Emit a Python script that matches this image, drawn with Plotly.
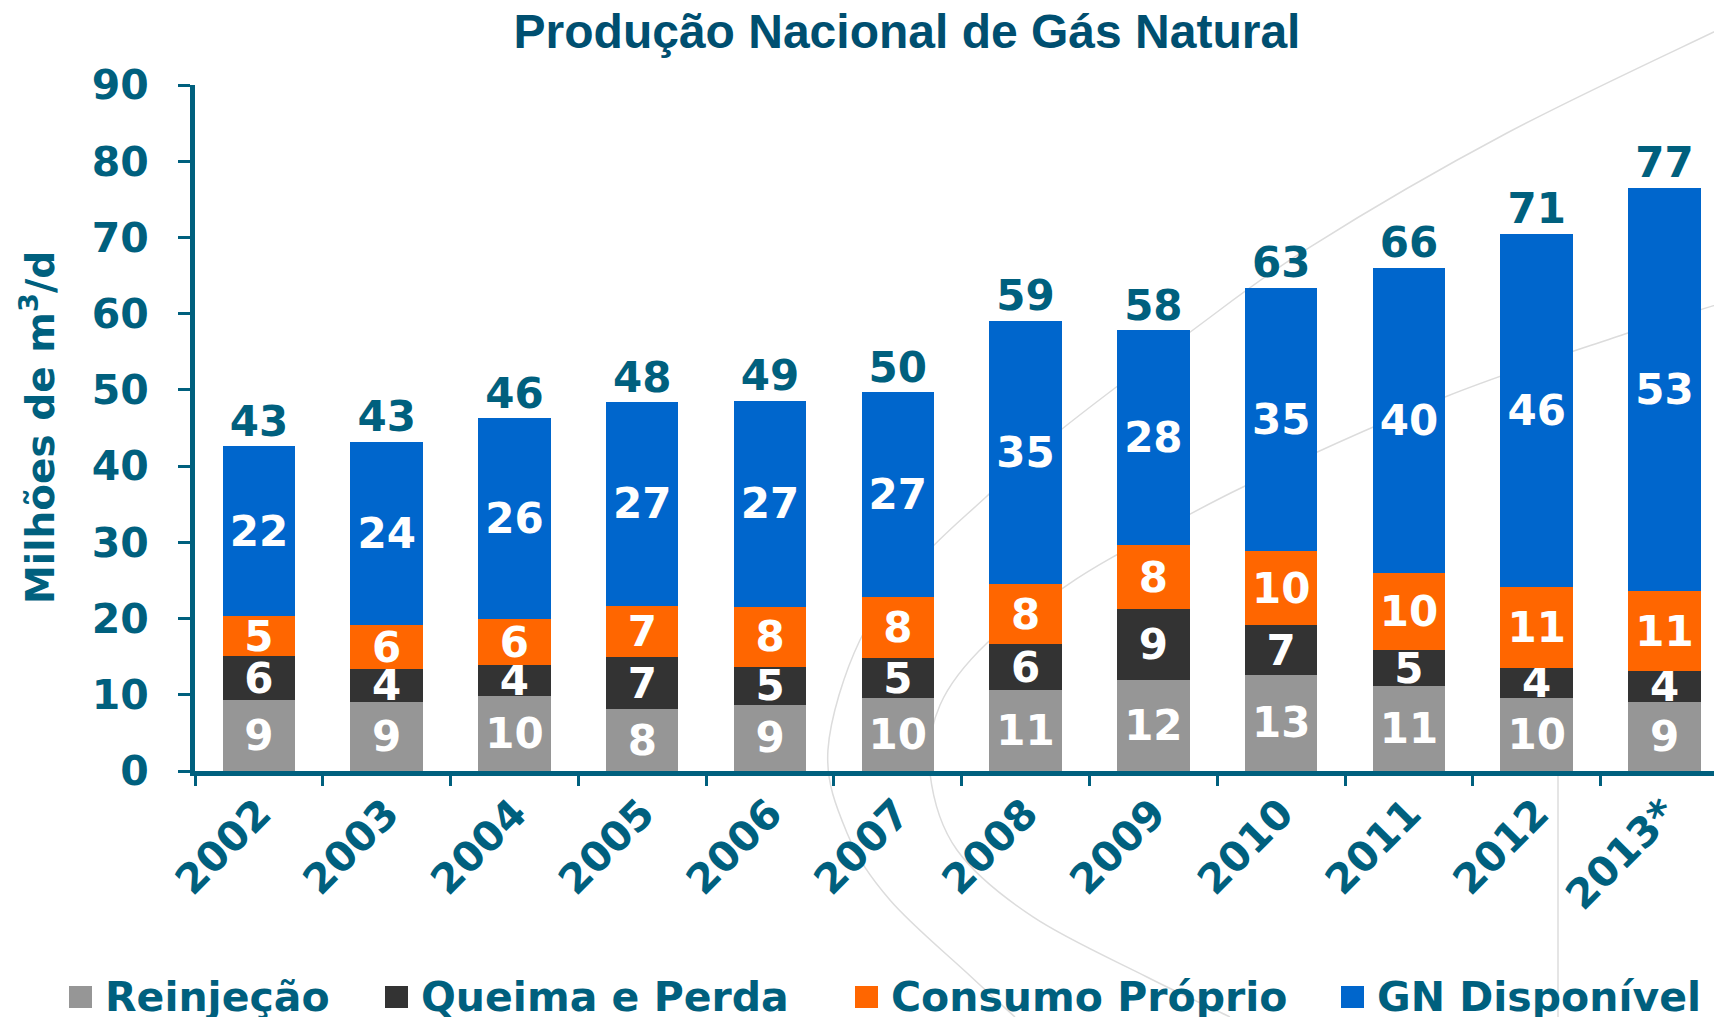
import plotly.graph_objects as go
from decimal import Decimal, ROUND_HALF_UP

# ---------------- data ----------------
years = ["2002", "2003", "2004", "2005", "2006", "2007", "2008", "2009", "2010", "2011", "2012", "2013*"]
reinjecao = [9.3, 9.0, 9.9, 8.1, 8.7, 9.6, 10.6, 11.9, 12.6, 11.1, 9.6, 9.1]
queima_perda = [5.8, 4.4, 4.0, 6.8, 5.0, 5.2, 6.0, 9.3, 6.5, 4.8, 3.9, 4.0]
consumo_proprio = [5.2, 5.7, 6.0, 6.8, 7.8, 8.0, 7.9, 8.4, 9.8, 10.1, 10.6, 10.5]
gn_disponivel = [22.3, 24.1, 26.4, 26.7, 27.1, 26.9, 34.6, 28.2, 34.5, 40.0, 46.4, 52.9]
series_names = ["Reinjeção", "Queima e Perda", "Consumo Próprio", "GN Disponível"]
series_colors = ["#969696", "#333333", "#FF6600", "#0066CC"]
y_ticks = [0, 10, 20, 30, 40, 50, 60, 70, 80, 90]

series_values = [reinjecao, queima_perda, consumo_proprio, gn_disponivel]
totals = [round(sum(v), 1) for v in zip(*series_values)]


def half_up(v):
    return str(Decimal(str(v)).quantize(Decimal("1"), rounding=ROUND_HALF_UP))


# ---------------- layout geometry ----------------
# The page body adds an 8px margin, so the figure is drawn 8px smaller
# and all target positions below are given in screenshot pixels.
OFF = 8
W_IMG, H_IMG = 1722, 1017
FIG_W, FIG_H = W_IMG - OFF, H_IMG - OFF
PLOT_LEFT, PLOT_TOP, PLOT_BOTTOM = 195, 85, 771      # screenshot pixels
L = PLOT_LEFT - OFF
T = PLOT_TOP - OFF
PH = PLOT_BOTTOM - PLOT_TOP
B = FIG_H - T - PH
R = 0
PW = FIG_W - L - R

TEAL = "#00607E"
TITLE = "#004F70"
FONT = "DejaVu Sans"
FS = 41
FS_BAR = 42


def to_paper(x, y):
    return ((x - PLOT_LEFT) / PW, (PLOT_BOTTOM - y) / PH)


fig = go.Figure()

for name, vals, col in zip(series_names, series_values, series_colors):
    fig.add_trace(go.Bar(
        x=years, y=vals, name=name,
        marker=dict(color=col, line=dict(width=0)),
        text=[half_up(v) for v in vals],
        textposition="inside", insidetextanchor="middle",
        constraintext="none", textangle=0,
        textfont=dict(family=FONT, size=FS_BAR, color="white", weight="bold"),
        hoverinfo="skip", showlegend=False,
    ))

fig.add_trace(go.Scatter(
    x=years, y=totals, mode="text",
    text=[half_up(v) for v in totals],
    textposition="top center",
    textfont=dict(family=FONT, size=FS_BAR, color=TEAL, weight="bold"),
    showlegend=False, hoverinfo="skip",
))


# ---------------- decorative background arcs ----------------
def smooth_path(points):
    p = [to_paper(x, y) for x, y in points]
    d = "M{:.4f},{:.4f}".format(*p[0])
    n = len(p)
    for i in range(n - 1):
        p0 = p[i - 1] if i > 0 else p[i]
        p1 = p[i]
        p2 = p[i + 1]
        p3 = p[i + 2] if i + 2 < n else p[i + 1]
        c1 = (p1[0] + (p2[0] - p0[0]) / 6, p1[1] + (p2[1] - p0[1]) / 6)
        c2 = (p2[0] - (p3[0] - p1[0]) / 6, p2[1] - (p3[1] - p1[1]) / 6)
        d += " C{:.4f},{:.4f} {:.4f},{:.4f} {:.4f},{:.4f}".format(c1[0], c1[1], c2[0], c2[1], p2[0], p2[1])
    return d


arc_a = [(1722, 28), (1507, 133), (1310, 247), (1189, 333), (1057, 433), (986, 497),
         (920, 560), (860, 640), (828, 750), (847, 833), (890, 900), (967, 973), (1015, 1017)]
arc_b = [(1722, 303), (1628, 333), (1445, 397), (1243, 487), (1113, 557), (1060, 590),
         (987, 643), (940, 705), (930, 773), (957, 850), (1033, 917), (1147, 977), (1230, 1017)]
shapes = []
for arc in (arc_a, arc_b):
    shapes.append(dict(type="path", path=smooth_path(arc), xref="paper", yref="paper",
                       line=dict(color="#DCDCDC", width=1.5), layer="below"))
x0, y0 = to_paper(1558, 771)
x1, y1 = to_paper(1558, 1017)
shapes.append(dict(type="line", x0=x0, y0=y0, x1=x1, y1=y1, xref="paper", yref="paper",
                   line=dict(color="#DCDCDC", width=1.5), layer="below"))

# ---------------- legend (drawn as squares + labels) ----------------
legend_square_left = [69, 385, 855, 1341]
annotations = []
for name, col, sx in zip(series_names, series_colors, legend_square_left):
    ax0, ay0 = to_paper(sx, 986)
    ax1, ay1 = to_paper(sx + 23, 1008)
    shapes.append(dict(type="rect", x0=ax0, y0=ay0, x1=ax1, y1=ay1, xref="paper", yref="paper",
                       fillcolor=col, line=dict(width=0)))
    tx, ty = to_paper(sx + 34, 997)
    annotations.append(dict(text="<b>" + name + "</b>", x=tx, y=ty, xref="paper", yref="paper",
                            xanchor="left", yanchor="middle", showarrow=False,
                            font=dict(family=FONT, size=FS, color=TEAL)))

# y axis title
tx, ty = to_paper(38, 428)
annotations.append(dict(text="<b>Milhões de m<sup>3</sup>/d</b>", x=tx, y=ty,
                        xref="paper", yref="paper", xanchor="center", yanchor="middle",
                        textangle=-90, showarrow=False,
                        font=dict(family=FONT, size=39, color=TEAL)))

fig.update_layout(
    width=FIG_W, height=FIG_H,
    margin=dict(l=L, r=R, t=T, b=B, autoexpand=False),
    paper_bgcolor="white", plot_bgcolor="rgba(0,0,0,0)",
    barmode="stack", bargap=0.433,
    title=dict(text="<b>Produção Nacional de Gás Natural</b>",
               font=dict(family="Liberation Sans", size=48, color=TITLE),
               x=(907 - OFF) / FIG_W, xanchor="center",
               y=1 - (31 - OFF) / FIG_H, yanchor="middle"),
    xaxis=dict(
        type="category", range=[-0.5, 11.45], automargin=False,
        showline=True, linecolor=TEAL, linewidth=5,
        ticks="outside", tickson="boundaries", ticklen=10, tickwidth=3, tickcolor=TEAL,
        tickangle=-45, ticklabelstandoff=-3,
        tickfont=dict(family=FONT, size=FS, color=TEAL, weight="bold"),
        showgrid=False, zeroline=False,
    ),
    yaxis=dict(
        range=[0, 90], tickvals=y_ticks, automargin=False,
        showline=True, linecolor=TEAL, linewidth=5,
        ticks="outside", ticklen=12, tickwidth=3, tickcolor=TEAL,
        tickfont=dict(family=FONT, size=FS, color=TEAL, weight="bold"),
        ticklabelstandoff=21,
        showgrid=False, zeroline=False,
    ),
    shapes=shapes,
    annotations=annotations,
    showlegend=False,
)

fig.write_html("out.html")
